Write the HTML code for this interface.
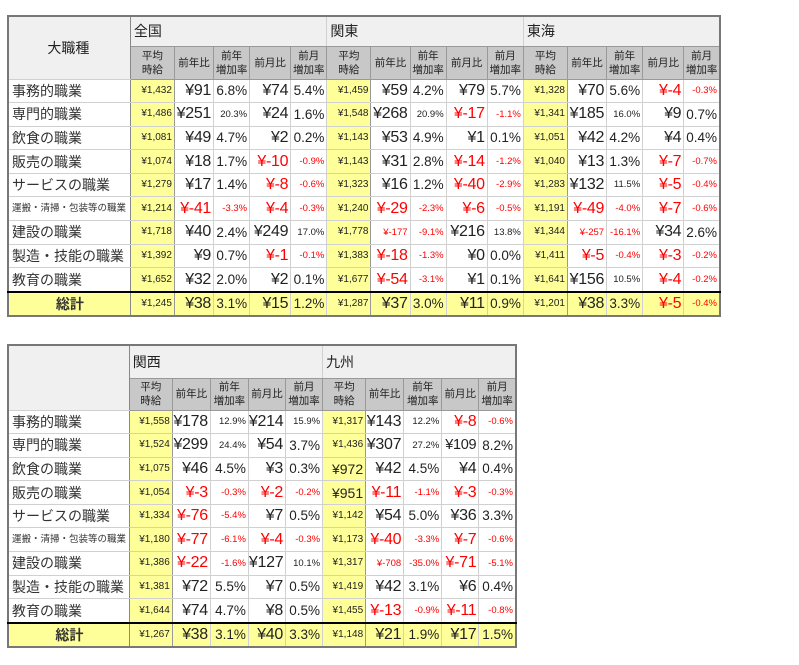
<!DOCTYPE html>
<html><head><meta charset="utf-8">
<style>
body{margin:0;background:#fff;font-family:"Liberation Sans","Noto Sans CJK JP",sans-serif;color:#222;}
table{position:absolute;border-collapse:collapse;table-layout:fixed;border:2px solid #777;}
td{border:1px solid #d0d0d0;padding:0 2px 0 0;text-align:right;white-space:nowrap;overflow:hidden;font-size:13.5px;line-height:1;vertical-align:middle;}
td.l{text-align:left;padding-left:3px;font-size:14px;color:#333;background:#fff;border-right:1px solid #888;}
td.l.sm{font-size:9.5px;}
td.h{background:#f0f0f0;text-align:left;padding-left:3px;font-size:14px;border-left:1px solid #888;border-bottom:1px solid #999;}
td.hc{background:#f0f0f0;text-align:center;font-size:14px;border-right:1px solid #888;}
td.sh{background:#c8c8c8;text-align:center;font-size:10.5px;line-height:14px;border:1px solid #999;padding:0;}
td.a{background:#ffff99;font-size:10px;border-left:1px solid #888;border-right:1px solid #999;}
td.b{font-size:16px;letter-spacing:-0.3px;}
td.s{font-size:9.5px;}
.r{color:#ff0000 !important;}
tr.dr td{height:22.6px;}
tr.t td{height:21.8px;background:#ffff99;border-top:2px solid #000;}
tr.t td.l{background:#ffff99;text-align:center;font-weight:bold;}
</style></head><body>

<table style="left:7px;top:15px;width:714px;">
<colgroup><col style="width:122px">
<col style="width:44px"><col style="width:39px"><col style="width:36px"><col style="width:41px"><col style="width:36px">
<col style="width:44px"><col style="width:39px"><col style="width:36px"><col style="width:41px"><col style="width:36px">
<col style="width:44px"><col style="width:39px"><col style="width:36px"><col style="width:41px"><col style="width:36px">
</colgroup>
<tr style="height:30px"><td class="hc" rowspan="2">大職種</td><td class="h" colspan="5">全国</td><td class="h" colspan="5">関東</td><td class="h" colspan="5">東海</td></tr>
<tr style="height:33px">
<td class="sh">平均<br>時給</td><td class="sh">前年比</td><td class="sh">前年<br>増加率</td><td class="sh">前月比</td><td class="sh">前月<br>増加率</td>
<td class="sh">平均<br>時給</td><td class="sh">前年比</td><td class="sh">前年<br>増加率</td><td class="sh">前月比</td><td class="sh">前月<br>増加率</td>
<td class="sh">平均<br>時給</td><td class="sh">前年比</td><td class="sh">前年<br>増加率</td><td class="sh">前月比</td><td class="sh">前月<br>増加率</td></tr>
<tr class="dr"><td class="l">事務的職業</td><td class="a">¥1,432</td><td class="b">¥91</td><td>6.8%</td><td class="b">¥74</td><td>5.4%</td><td class="a">¥1,459</td><td class="b">¥59</td><td>4.2%</td><td class="b">¥79</td><td>5.7%</td><td class="a">¥1,328</td><td class="b">¥70</td><td>5.6%</td><td class="b r">¥-4</td><td class="s r">-0.3%</td></tr>
<tr class="dr"><td class="l">専門的職業</td><td class="a">¥1,486</td><td class="b">¥251</td><td class="s">20.3%</td><td class="b">¥24</td><td>1.6%</td><td class="a">¥1,548</td><td class="b">¥268</td><td class="s">20.9%</td><td class="b r">¥-17</td><td class="s r">-1.1%</td><td class="a">¥1,341</td><td class="b">¥185</td><td class="s">16.0%</td><td class="b">¥9</td><td>0.7%</td></tr>
<tr class="dr"><td class="l">飲食の職業</td><td class="a">¥1,081</td><td class="b">¥49</td><td>4.7%</td><td class="b">¥2</td><td>0.2%</td><td class="a">¥1,143</td><td class="b">¥53</td><td>4.9%</td><td class="b">¥1</td><td>0.1%</td><td class="a">¥1,051</td><td class="b">¥42</td><td>4.2%</td><td class="b">¥4</td><td>0.4%</td></tr>
<tr class="dr"><td class="l">販売の職業</td><td class="a">¥1,074</td><td class="b">¥18</td><td>1.7%</td><td class="b r">¥-10</td><td class="s r">-0.9%</td><td class="a">¥1,143</td><td class="b">¥31</td><td>2.8%</td><td class="b r">¥-14</td><td class="s r">-1.2%</td><td class="a">¥1,040</td><td class="b">¥13</td><td>1.3%</td><td class="b r">¥-7</td><td class="s r">-0.7%</td></tr>
<tr class="dr"><td class="l">サービスの職業</td><td class="a">¥1,279</td><td class="b">¥17</td><td>1.4%</td><td class="b r">¥-8</td><td class="s r">-0.6%</td><td class="a">¥1,323</td><td class="b">¥16</td><td>1.2%</td><td class="b r">¥-40</td><td class="s r">-2.9%</td><td class="a">¥1,283</td><td class="b">¥132</td><td class="s">11.5%</td><td class="b r">¥-5</td><td class="s r">-0.4%</td></tr>
<tr class="dr"><td class="l sm">運搬・清掃・包装等の職業</td><td class="a">¥1,214</td><td class="b r">¥-41</td><td class="s r">-3.3%</td><td class="b r">¥-4</td><td class="s r">-0.3%</td><td class="a">¥1,240</td><td class="b r">¥-29</td><td class="s r">-2.3%</td><td class="b r">¥-6</td><td class="s r">-0.5%</td><td class="a">¥1,191</td><td class="b r">¥-49</td><td class="s r">-4.0%</td><td class="b r">¥-7</td><td class="s r">-0.6%</td></tr>
<tr class="dr"><td class="l">建設の職業</td><td class="a">¥1,718</td><td class="b">¥40</td><td>2.4%</td><td class="b">¥249</td><td class="s">17.0%</td><td class="a">¥1,778</td><td class="s r">¥-177</td><td class="s r">-9.1%</td><td class="b">¥216</td><td class="s">13.8%</td><td class="a">¥1,344</td><td class="s r">¥-257</td><td class="s r">-16.1%</td><td class="b">¥34</td><td>2.6%</td></tr>
<tr class="dr"><td class="l">製造・技能の職業</td><td class="a">¥1,392</td><td class="b">¥9</td><td>0.7%</td><td class="b r">¥-1</td><td class="s r">-0.1%</td><td class="a">¥1,383</td><td class="b r">¥-18</td><td class="s r">-1.3%</td><td class="b">¥0</td><td>0.0%</td><td class="a">¥1,411</td><td class="b r">¥-5</td><td class="s r">-0.4%</td><td class="b r">¥-3</td><td class="s r">-0.2%</td></tr>
<tr class="dr"><td class="l">教育の職業</td><td class="a">¥1,652</td><td class="b">¥32</td><td>2.0%</td><td class="b">¥2</td><td>0.1%</td><td class="a">¥1,677</td><td class="b r">¥-54</td><td class="s r">-3.1%</td><td class="b">¥1</td><td>0.1%</td><td class="a">¥1,641</td><td class="b">¥156</td><td class="s">10.5%</td><td class="b r">¥-4</td><td class="s r">-0.2%</td></tr>
<tr class="t"><td class="l">総計</td><td class="a">¥1,245</td><td class="b">¥38</td><td>3.1%</td><td class="b">¥15</td><td>1.2%</td><td class="a">¥1,287</td><td class="b">¥37</td><td>3.0%</td><td class="b">¥11</td><td>0.9%</td><td class="a">¥1,201</td><td class="b">¥38</td><td>3.3%</td><td class="b r">¥-5</td><td class="s r">-0.4%</td></tr>
</table>

<table style="left:7px;top:344px;width:510px;">
<colgroup><col style="width:121px">
<col style="width:43px"><col style="width:38px"><col style="width:38px"><col style="width:37px"><col style="width:37px">
<col style="width:43px"><col style="width:38px"><col style="width:38px"><col style="width:37px"><col style="width:37px">
</colgroup>
<tr style="height:33px"><td class="hc" rowspan="2"></td><td class="h" colspan="5">関西</td><td class="h" colspan="5">九州</td></tr>
<tr style="height:32px">
<td class="sh">平均<br>時給</td><td class="sh">前年比</td><td class="sh">前年<br>増加率</td><td class="sh">前月比</td><td class="sh">前月<br>増加率</td>
<td class="sh">平均<br>時給</td><td class="sh">前年比</td><td class="sh">前年<br>増加率</td><td class="sh">前月比</td><td class="sh">前月<br>増加率</td></tr>
<tr class="dr"><td class="l">事務的職業</td><td class="a">¥1,558</td><td class="b">¥178</td><td class="s">12.9%</td><td class="b">¥214</td><td class="s">15.9%</td><td class="a">¥1,317</td><td class="b">¥143</td><td class="s">12.2%</td><td class="b r">¥-8</td><td class="s r">-0.6%</td></tr>
<tr class="dr"><td class="l">専門的職業</td><td class="a">¥1,524</td><td class="b">¥299</td><td class="s">24.4%</td><td class="b">¥54</td><td>3.7%</td><td class="a">¥1,436</td><td class="b">¥307</td><td class="s">27.2%</td><td class="b" style="font-size:14.5px">¥109</td><td>8.2%</td></tr>
<tr class="dr"><td class="l">飲食の職業</td><td class="a">¥1,075</td><td class="b">¥46</td><td>4.5%</td><td class="b">¥3</td><td>0.3%</td><td class="a" style="font-size:14px">¥972</td><td class="b">¥42</td><td>4.5%</td><td class="b">¥4</td><td>0.4%</td></tr>
<tr class="dr"><td class="l">販売の職業</td><td class="a">¥1,054</td><td class="b r">¥-3</td><td class="s r">-0.3%</td><td class="b r">¥-2</td><td class="s r">-0.2%</td><td class="a" style="font-size:14px">¥951</td><td class="b r">¥-11</td><td class="s r">-1.1%</td><td class="b r">¥-3</td><td class="s r">-0.3%</td></tr>
<tr class="dr"><td class="l">サービスの職業</td><td class="a">¥1,334</td><td class="b r">¥-76</td><td class="s r">-5.4%</td><td class="b">¥7</td><td>0.5%</td><td class="a">¥1,142</td><td class="b">¥54</td><td>5.0%</td><td class="b">¥36</td><td>3.3%</td></tr>
<tr class="dr"><td class="l sm">運搬・清掃・包装等の職業</td><td class="a">¥1,180</td><td class="b r">¥-77</td><td class="s r">-6.1%</td><td class="b r">¥-4</td><td class="s r">-0.3%</td><td class="a">¥1,173</td><td class="b r">¥-40</td><td class="s r">-3.3%</td><td class="b r">¥-7</td><td class="s r">-0.6%</td></tr>
<tr class="dr"><td class="l">建設の職業</td><td class="a">¥1,386</td><td class="b r">¥-22</td><td class="s r">-1.6%</td><td class="b">¥127</td><td class="s">10.1%</td><td class="a">¥1,317</td><td class="s r">¥-708</td><td class="s r">-35.0%</td><td class="b r">¥-71</td><td class="s r">-5.1%</td></tr>
<tr class="dr"><td class="l">製造・技能の職業</td><td class="a">¥1,381</td><td class="b">¥72</td><td>5.5%</td><td class="b">¥7</td><td>0.5%</td><td class="a">¥1,419</td><td class="b">¥42</td><td>3.1%</td><td class="b">¥6</td><td>0.4%</td></tr>
<tr class="dr"><td class="l">教育の職業</td><td class="a">¥1,644</td><td class="b">¥74</td><td>4.7%</td><td class="b">¥8</td><td>0.5%</td><td class="a">¥1,455</td><td class="b r">¥-13</td><td class="s r">-0.9%</td><td class="b r">¥-11</td><td class="s r">-0.8%</td></tr>
<tr class="t"><td class="l">総計</td><td class="a">¥1,267</td><td class="b">¥38</td><td>3.1%</td><td class="b">¥40</td><td>3.3%</td><td class="a">¥1,148</td><td class="b">¥21</td><td>1.9%</td><td class="b">¥17</td><td>1.5%</td></tr>
</table>
</body></html>
